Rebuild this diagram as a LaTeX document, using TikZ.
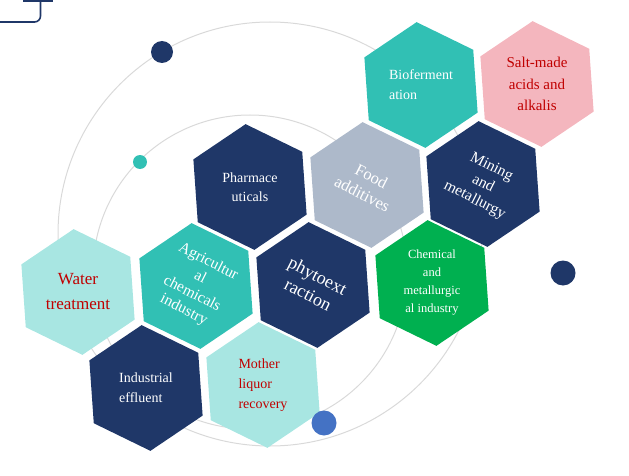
\documentclass[tikz,border=0pt]{standalone}
\usepackage{fontspec}
\setmainfont{Liberation Serif}
\usetikzlibrary{shapes.geometric}
\definecolor{hexnavy}{HTML}{1F3768}
\definecolor{hexteal}{HTML}{31C0B4}
\definecolor{hexaqua}{HTML}{A8E6E2}
\definecolor{hexpink}{HTML}{F4B6BE}
\definecolor{hexgrey}{HTML}{ADB9CA}
\definecolor{hexgreen}{HTML}{00B050}
\definecolor{labelred}{HTML}{C00000}
\definecolor{ringgrey}{HTML}{D9D9D9}
\definecolor{dotblue}{HTML}{4472C4}

\begin{document}
\begin{tikzpicture}[x=1pt, y=-1pt,
    hexa/.style={regular polygon, regular polygon sides=6, minimum size=126pt, inner sep=0pt, shape border rotate=34, text=white, align=center},
    tilted/.style={rotate=-27, shape border rotate=61},
    sz/.style 2 args={font=\fontsize{#1}{#2}\selectfont},
    dot/.style={circle, inner sep=0pt}]
    \useasboundingbox (0,0) rectangle (629,476);

    % rings behind the cells
    \draw[ringgrey, line width=1pt] (270,234) circle (212pt);
    \draw[ringgrey, line width=1pt] (250,272) circle (157pt);

    \node[hexa, fill=hexteal, sz={14}{20}, align=left] (biofer) at (421,85) {Bioferment\\ation};
    \node[hexa, fill=hexpink, text=labelred, sz={15}{21.5}] (saltmade) at (537,84) {Salt-made\\acids and\\alkalis};
    \node[hexa, fill=hexnavy, sz={14}{19}] (pharma) at (250,187) {Pharmace\\uticals};
    \node[hexa, tilted, fill=hexgrey, sz={16.5}{20}] (food) at (367,185) {Food\\additives};
    \node[hexa, tilted, fill=hexnavy, sz={15.5}{18.5}] (mining) at (483,184) {Mining\\and\\metallurgy};
    \node[hexa, fill=hexaqua, text=labelred, sz={17}{25}] (water) at (78,292) {Water\\treatment};
    \node[hexa, tilted, fill=hexteal, sz={15.5}{18}] (agri) at (196,286) {Agricultur\\al\\chemicals\\industry};
    \node[hexa, tilted, fill=hexnavy, sz={18}{21}] (phyto) at (313,285) {phytoext\\raction};
    \node[hexa, fill=hexgreen, sz={12.5}{18}] (chem) at (432,283) {Chemical\\and\\metallurgic\\al industry};
    \node[hexa, fill=hexnavy, sz={14}{20}, align=left] (effluent) at (146,388) {Industrial\\effluent};
    \node[hexa, fill=hexaqua, text=labelred, sz={14}{20}, align=left] (mother) at (263,385) {Mother\\liquor\\recovery};

    % dots on the rings
    \node[dot, fill=hexnavy, minimum size=22pt] (dottop) at (162,52) {};
    \node[dot, fill=hexteal, minimum size=14pt] (dotleft) at (140,162) {};
    \node[dot, fill=hexnavy, minimum size=25pt] (dotright) at (563,273) {};
    \node[dot, fill=dotblue, minimum size=25pt] (dotbottom) at (324,423) {};

    % corner mark
    \draw[hexnavy, line width=1.6pt, rounded corners=6pt] (0,22) -- (40.5,22) -- (40.5,-2);
    \draw[hexnavy, line width=1.6pt] (23,0.8) -- (53,0.8);
\end{tikzpicture}
\end{document}
